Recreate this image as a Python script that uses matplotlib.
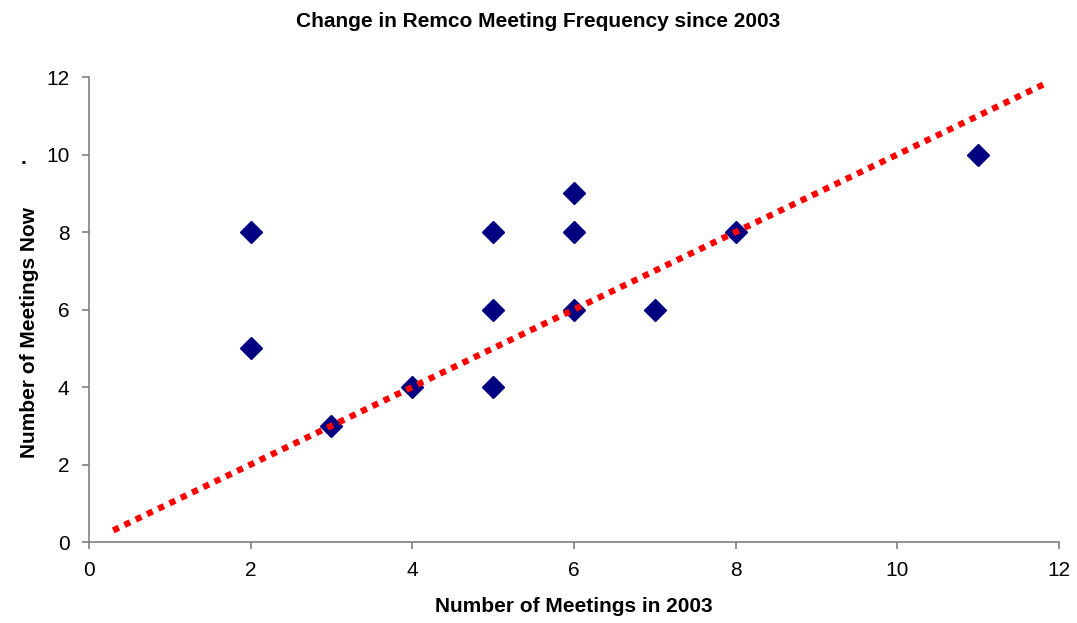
import matplotlib
matplotlib.use("Agg")
import matplotlib.pyplot as plt

plt.rcParams['font.family'] = ['Liberation Sans', 'DejaVu Sans']

meetings_2003 = [2, 2, 3, 4, 5, 5, 5, 6, 6, 6, 7, 8, 11]
meetings_now = [8, 5, 3, 4, 8, 6, 4, 9, 8, 6, 6, 8, 10]
trend_x = [0.3, 11.85]
trend_y = [0.3, 11.85]
ticks = [0, 2, 4, 6, 8, 10, 12]

fig = plt.figure(figsize=(10.77, 6.23), dpi=100)
ax = fig.add_axes([0.0826, 0.13, 0.9007, 0.7464])

ax.plot(meetings_2003, meetings_now, linestyle='none', marker='D',
        markersize=11.5, color='#000080', zorder=2)
ax.plot(trend_x, trend_y, color='#ff0000', linestyle=(0, (1, 1)),
        linewidth=4.5, zorder=3)

ax.set_xlim(0, 12)
ax.set_ylim(0, 12)
ax.set_xticks(ticks)
ax.set_yticks(ticks)
ax.tick_params(labelsize=15, color='#808080', length=5, width=1.2, pad=9)

for side in ['top', 'right']:
    ax.spines[side].set_visible(False)
for side in ['left', 'bottom']:
    ax.spines[side].set_color('#808080')
    ax.spines[side].set_linewidth(1.2)

ax.set_xlabel('Number of Meetings in 2003', fontsize=15, fontweight='bold', labelpad=12)
ax.set_ylabel('Number of Meetings Now', fontsize=15, fontweight='bold')
ax.yaxis.set_label_coords(-0.051, 0.4516)
fig.text(0.5, 0.965, 'Change in Remco Meeting Frequency since 2003', ha='center',
         va='center', fontsize=15, fontweight='bold')
fig.text(0.0215, 0.745, '.', ha='center', va='center', fontsize=15, fontweight='bold')

fig.savefig('out.png', dpi=100)
